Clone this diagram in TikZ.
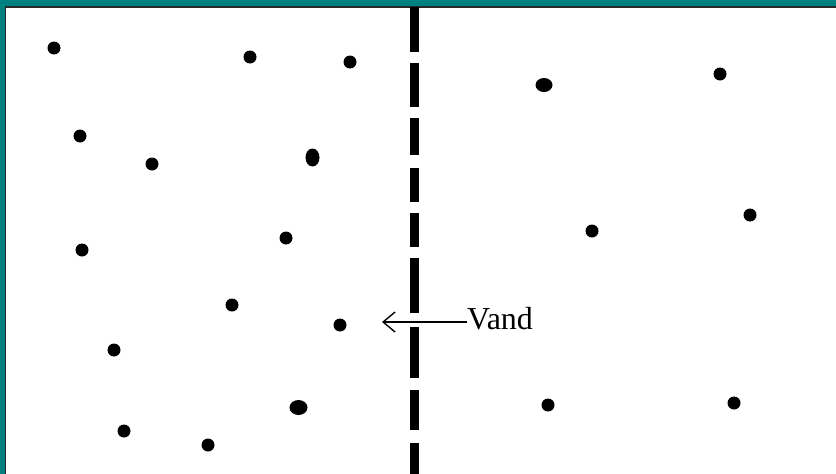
\documentclass[tikz,border=0pt]{standalone}
\usepackage{fontspec}
\setmainfont{Liberation Serif}
\usetikzlibrary{arrows.meta}
\definecolor{frameteal}{RGB}{0,128,128}
\definecolor{framedark}{RGB}{40,40,40}
\begin{document}
\begin{tikzpicture}[x=1pt,y=-1pt,
  particle/.style={fill=black,draw=none},
  wallseg/.style={line width=9pt,black},
  pointer/.style={line width=1.2pt,-{Straight Barb[length=12pt,width=20pt,line width=1.4pt]}}]
\useasboundingbox (0,0) rectangle (836,474);
\fill[white] (0,0) rectangle (836,474);
% frame
\fill[frameteal] (0,0) rectangle (836,6);
\fill[frameteal] (0,0) rectangle (4.5,474);
\fill[framedark] (4.5,6) rectangle (836,7.5);
\fill[framedark] (4.5,6) rectangle (6,474);
% wall (dashed)
\foreach \a/\b in {7/52,63/107,118/155,168/202,213/247,258/313,327/378,390/430,443/474}
  \draw[wallseg] (414,\a) -- (414,\b);
% particles
\foreach \x/\y in {54/48,250/57,350/62,720/74,80/136,152/164,82/250,286/238,592/231,750/215,232/305,340/325,114/350,548/405,734/403,124/431,208/445}
  \fill[particle] (\x,\y) circle[radius=6.5];
\fill[particle] (544,85) ellipse[x radius=8.5,y radius=7];
\fill[particle] (312.5,157.5) ellipse[x radius=7,y radius=9];
\fill[particle] (298.5,407.5) ellipse[x radius=9,y radius=7.5];
% label and arrow
\node[anchor=base west,inner sep=0pt,font=\fontsize{32}{32}\selectfont] (vand) at (467,329) {Vand};
\coordinate (tip) at (382,322);
\draw[pointer] (vand.west |- tip) -- (tip);
\end{tikzpicture}
\end{document}
